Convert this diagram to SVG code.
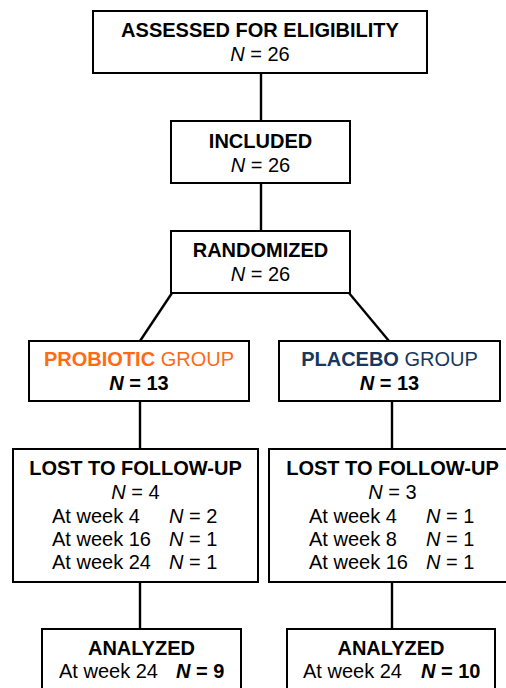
<svg xmlns="http://www.w3.org/2000/svg" width="506" height="688" viewBox="0 0 506 688">
  <style>
    .box { fill: #fff; stroke: #000; stroke-width: 2; }
    .link { stroke: #000; stroke-width: 2.4; fill: none; }
    text { font-family: "Liberation Sans", Arial, sans-serif; font-size: 20px; fill: #000; }
    .c { text-anchor: middle; }
    .b { font-weight: bold; }
    .i { font-style: italic; }
    .orange { fill: #FF6A13; }
    .navy { fill: #17375E; }
  </style>
  <rect width="506" height="688" fill="#fff"/>

  <!-- connectors -->
  <g id="connectors">
    <line class="link" x1="261" y1="73" x2="261" y2="121"/>
    <line class="link" x1="261" y1="183" x2="261" y2="231"/>
    <line class="link" x1="172" y1="293" x2="140" y2="341"/>
    <line class="link" x1="349" y1="293" x2="389" y2="341"/>
    <line class="link" x1="140" y1="401" x2="140" y2="449"/>
    <line class="link" x1="392" y1="401" x2="392" y2="449"/>
    <line class="link" x1="140" y1="582" x2="140" y2="629"/>
    <line class="link" x1="392" y1="582" x2="392" y2="629"/>
  </g>

  <g id="assessed">
    <rect class="box" x="93" y="11" width="334" height="62"/>
    <text class="c b" x="260" y="37">ASSESSED FOR ELIGIBILITY</text>
    <text class="c" x="260" y="61"><tspan class="i">N</tspan> = 26</text>
  </g>

  <g id="included">
    <rect class="box" x="171" y="121" width="179" height="62"/>
    <text class="c b" x="260.5" y="148">INCLUDED</text>
    <text class="c" x="260.5" y="172"><tspan class="i">N</tspan> = 26</text>
  </g>

  <g id="randomized">
    <rect class="box" x="171" y="231" width="179" height="62"/>
    <text class="c b" x="260.5" y="257">RANDOMIZED</text>
    <text class="c" x="260.5" y="281"><tspan class="i">N</tspan> = 26</text>
  </g>

  <g id="probiotic">
    <rect class="box" x="29" y="341" width="220" height="60"/>
    <text class="c orange" x="139" y="366"><tspan class="b">PROBIOTIC</tspan> GROUP</text>
    <text class="c b" x="139" y="390"><tspan class="i">N</tspan> = 13</text>
  </g>

  <g id="placebo">
    <rect class="box" x="279" y="341" width="221" height="60"/>
    <text class="c navy" x="389.5" y="366"><tspan class="b">PLACEBO</tspan> GROUP</text>
    <text class="c b" x="389.5" y="390"><tspan class="i">N</tspan> = 13</text>
  </g>

  <g id="lost-probiotic">
    <rect class="box" x="13" y="449" width="245" height="133"/>
    <text class="c b" x="135.5" y="475">LOST TO FOLLOW-UP</text>
    <text class="c" x="135.5" y="499"><tspan class="i">N</tspan> = 4</text>
    <text x="52" y="523">At week 4</text>
    <text x="169" y="523"><tspan class="i">N</tspan> = 2</text>
    <text x="52" y="546">At week 16</text>
    <text x="169" y="546"><tspan class="i">N</tspan> = 1</text>
    <text x="52" y="569">At week 24</text>
    <text x="169" y="569"><tspan class="i">N</tspan> = 1</text>
  </g>

  <g id="lost-placebo">
    <rect class="box" x="269" y="449" width="247" height="133"/>
    <text class="c b" x="392.5" y="475">LOST TO FOLLOW-UP</text>
    <text class="c" x="392.5" y="499"><tspan class="i">N</tspan> = 3</text>
    <text x="309" y="523">At week 4</text>
    <text x="426" y="523"><tspan class="i">N</tspan> = 1</text>
    <text x="309" y="546">At week 8</text>
    <text x="426" y="546"><tspan class="i">N</tspan> = 1</text>
    <text x="309" y="569">At week 16</text>
    <text x="426" y="569"><tspan class="i">N</tspan> = 1</text>
  </g>

  <g id="analyzed-probiotic">
    <rect class="box" x="42" y="629" width="199" height="70"/>
    <text class="c b" x="141.5" y="655">ANALYZED</text>
    <text x="59" y="678">At week 24</text>
    <text class="b" x="176" y="678"><tspan class="i">N</tspan> = 9</text>
  </g>

  <g id="analyzed-placebo">
    <rect class="box" x="287" y="629" width="208" height="70"/>
    <text class="c b" x="391" y="655">ANALYZED</text>
    <text x="303" y="678">At week 24</text>
    <text class="b" x="421" y="678"><tspan class="i">N</tspan> = 10</text>
  </g>
</svg>
